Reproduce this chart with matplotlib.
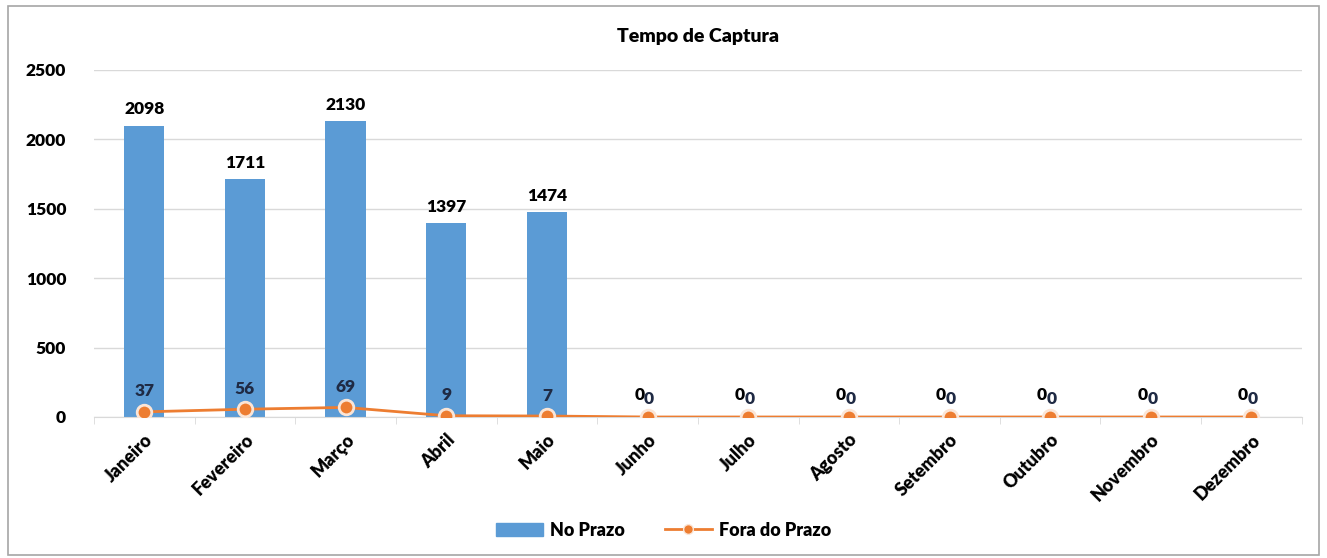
import matplotlib.pyplot as plt
import numpy as np
from matplotlib.patches import Rectangle
from matplotlib.lines import Line2D
from matplotlib.patches import Patch

months = ['Janeiro', 'Fevereiro', 'Março', 'Abril', 'Maio', 'Junho', 'Julho',
          'Agosto', 'Setembro', 'Outubro', 'Novembro', 'Dezembro']
no_prazo = [2098, 1711, 2130, 1397, 1474, 0, 0, 0, 0, 0, 0, 0]
fora_prazo = [37, 56, 69, 9, 7, 0, 0, 0, 0, 0, 0, 0]

plt.rcParams['font.family'] = ['Lato', 'DejaVu Sans']
plt.rcParams['font.weight'] = 'heavy'

blue = '#5B9BD5'
orange = '#ED7D31'

fig = plt.figure(figsize=(13.27, 5.58), dpi=100)
ax = fig.add_axes([0.0708, 0.2527, 0.9102, 0.6219])

# outer border like the Excel chart frame
fig.patches.append(Rectangle((0.006, 0.006), 0.988, 0.984, transform=fig.transFigure,
                             fill=False, edgecolor='#A6A6A6', linewidth=1.2))

x = np.arange(len(months))
ax.bar(x, no_prazo, width=0.4, color=blue, zorder=2)
ax.plot(x, fora_prazo, color=orange, linewidth=2, marker='o', markersize=10.5,
        markerfacecolor=orange, markeredgecolor='#FBE5D6', markeredgewidth=2, zorder=3)

for xi, v in zip(x, no_prazo):
    ax.annotate(str(v), (xi, v), xytext=(-6 if v == 0 else 0, 10 if v == 0 else 6),
                textcoords='offset points', ha='center', va='bottom',
                fontsize=12.5, fontweight='heavy', color='black')
for xi, v in zip(x, fora_prazo):
    ax.annotate(str(v), (xi, v), xytext=(1 if v == 0 else 0, 7 if v == 0 else 9),
                textcoords='offset points', ha='center', va='bottom',
                fontsize=12.5, fontweight='heavy', color='#1F2A44')

ax.set_xlim(-0.5, len(months) - 0.5)
ax.set_ylim(0, 2500)
ax.set_yticks(np.arange(0, 2501, 500))
ax.yaxis.grid(True, color='#D9D9D9', linewidth=1)
ax.set_axisbelow(True)
for s in ['top', 'right', 'left']:
    ax.spines[s].set_visible(False)
ax.spines['bottom'].set_color('#D9D9D9')
ax.tick_params(axis='y', length=0, labelsize=12.5, pad=20)
ax.set_xticks(x)
ax.set_xticklabels(months, rotation=45, ha='right', rotation_mode='anchor', fontsize=13)
ax.tick_params(axis='x', length=0, pad=10)
ax.set_xticks(np.arange(-0.5, len(months), 1), minor=True)
ax.tick_params(axis='x', which='minor', length=5, color='#D9D9D9')

ax.set_title('Tempo de Captura', fontsize=14, fontweight='heavy', pad=20)

handles = [Patch(color=blue, label='No Prazo'),
           Line2D([0], [0], color=orange, linewidth=2, marker='o', markersize=7,
                  markerfacecolor=orange, markeredgecolor='#FBE5D6', label='Fora do Prazo')]
fig.legend(handles=handles, loc='center', bbox_to_anchor=(0.5, 0.05), ncol=2,
           frameon=False, fontsize=13, handlelength=2.6, handletextpad=0.4,
           columnspacing=2.2)

fig.savefig('out.png', dpi=100)
